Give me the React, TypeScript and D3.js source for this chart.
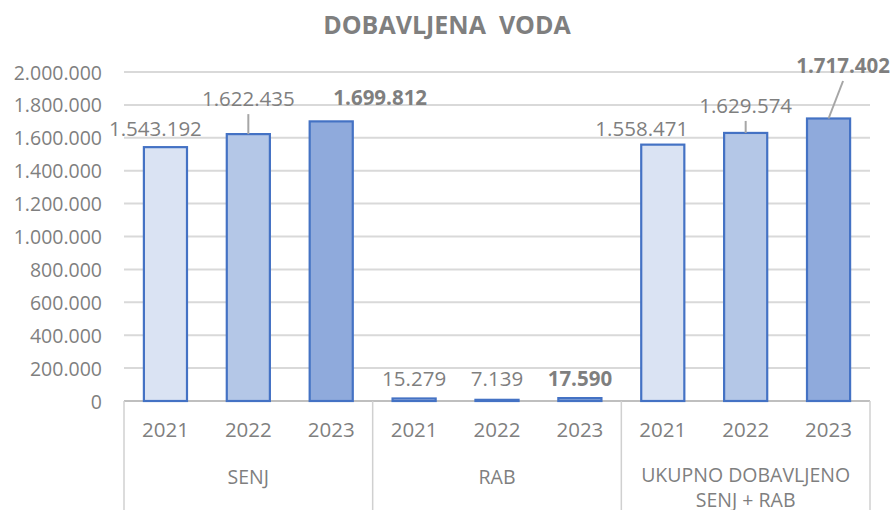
import React from "react";
import * as d3 from "d3";

const groups = ["SENJ", "RAB", "UKUPNO DOBAVLJENO SENJ + RAB"];
const groupLines = [["SENJ"], ["RAB"], ["UKUPNO DOBAVLJENO", "SENJ + RAB"]];
const years = ["2021", "2022", "2023"];
const values2021 = [1543192, 15279, 1558471];
const values2022 = [1622435, 7139, 1629574];
const values2023 = [1699812, 17590, 1717402];
const yTicks = [0, 200000, 400000, 600000, 800000, 1000000, 1200000, 1400000, 1600000, 1800000, 2000000];

const yearColors = ["#DAE3F3", "#B4C7E7", "#8FAADC"];
// label offsets (dx, dy from bar top to label centre) and whether a leader line is drawn
const labelOffsets: [number, number, boolean][] = [
  [-10, -19, false], [0, -36, true], [49, -24, false],
  [0, -20, false], [0, -22, false], [0, -20, false],
  [-21, -17, false], [0, -28, true], [14.5, -53.5, true],
];

const W = 893, H = 510;
const FONT = "'Open Sans', sans-serif";
const GRAY = "#7F7F7F";

const fmt = (v: number) => d3.format(",")(v).replace(/,/g, ".");

export default function App() {
  const x0 = 124, x1 = 870, yBase = 401, yTop = 72;
  const cats: { g: number; yi: number; v: number; key: string }[] = [];
  const series = [values2021, values2022, values2023];
  groups.forEach((g, gi) => years.forEach((yr, yi) => cats.push({ g: gi, yi, v: series[yi][gi], key: g + yr })));
  const x = d3.scaleBand<string>().domain(cats.map((c) => c.key)).range([x0, x1]).paddingInner(0.48).paddingOuter(0.24);
  const y = d3.scaleLinear().domain([0, 2000000]).range([yBase, yTop]);
  const step = (x1 - x0) / cats.length;

  return (
    <div style={{ position: "fixed", left: 0, top: 0 }}>
      <svg width={W} height={H} style={{ display: "block", background: "#fff" }} fontFamily={FONT}>
        <text x={447} y={24} textAnchor="middle" dominantBaseline="central" fontSize={25} fontWeight={700} fill={GRAY}>
          DOBAVLJENA{"\u00a0\u00a0"}VODA
        </text>
        {yTicks.map((t) => (
          <g key={t}>
            {t > 0 && <line x1={x0} x2={x1} y1={y(t)} y2={y(t)} stroke="#D9D9D9" strokeWidth={2} />}
            <text x={102} y={y(t)} textAnchor="end" dominantBaseline="central" fontSize={19.5} fill={GRAY}>
              {fmt(t)}
            </text>
          </g>
        ))}
        <line x1={x0} x2={x1} y1={yBase} y2={yBase} stroke="#BFBFBF" strokeWidth={2} />
        {[0, 3, 6, 9].map((i) => (
          <line key={i} x1={x0 + i * step} x2={x0 + i * step} y1={yBase} y2={H} stroke="#D0D0D0" strokeWidth={1.5} />
        ))}
        {cats.map((c, i) => {
          const bx = x(c.key)!;
          const bw = x.bandwidth();
          const top = y(c.v);
          const cx = bx + bw / 2;
          const [dx, dy, leader] = labelOffsets[i];
          const lx = cx + dx, ly = top + dy;
          return (
            <g key={c.key}>
              <rect x={bx} y={top} width={bw} height={yBase - top} fill={yearColors[c.yi]} stroke="#4472C4" strokeWidth={2.2} />
              {leader && <line x1={lx} y1={ly + 16} x2={cx} y2={top} stroke="#A6A6A6" strokeWidth={2} />}
              <text x={lx} y={ly} textAnchor="middle" dominantBaseline="central" fontSize={20.5} fill={GRAY} fontWeight={c.yi === 2 ? 700 : 400}>
                {fmt(c.v)}
              </text>
              <text x={cx} y={429} textAnchor="middle" dominantBaseline="central" fontSize={20.5} fill={GRAY}>
                {years[c.yi]}
              </text>
            </g>
          );
        })}
        {groupLines.map((lines, gi) => {
          const cx = x0 + (gi * 3 + 1.5) * step;
          const y0 = lines.length === 1 ? 476 : 474;
          return lines.map((ln, li) => (
            <text key={gi + "-" + li} x={cx} y={y0 + li * 25} textAnchor="middle" dominantBaseline="central" fontSize={19.5} fill={GRAY}>
              {ln}
            </text>
          ));
        })}
      </svg>
    </div>
  );
}
